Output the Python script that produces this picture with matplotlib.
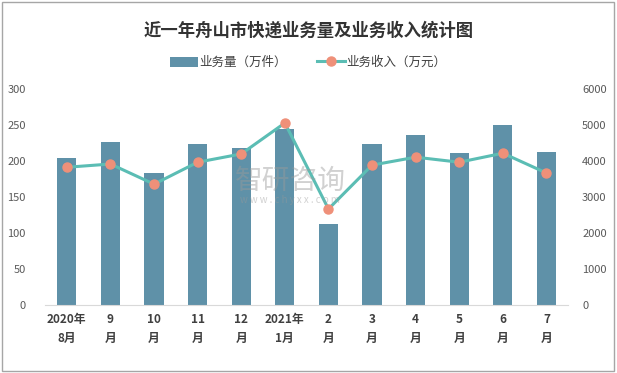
import numpy as np
import matplotlib
matplotlib.use("Agg")
from matplotlib import pyplot as plt
from matplotlib.patches import Rectangle

plt.rcParams['font.family'] = ['Noto Sans CJK SC', 'DejaVu Sans']

months = ["2020年\n8月", "9\n月", "10\n月", "11\n月", "12\n月", "2021年\n1月",
          "2\n月", "3\n月", "4\n月", "5\n月", "6\n月", "7\n月"]
volume = [205, 226, 183, 224, 218, 244, 112, 224, 237, 211, 250, 212]
revenue = [3830, 3920, 3360, 3970, 4200, 5060, 2670, 3890, 4110, 3970, 4220, 3670]

fig = plt.figure(figsize=(6.17, 3.73), dpi=100)
fig.patches.append(Rectangle((0.004, 0.006), 0.991, 0.988, transform=fig.transFigure,
                             fill=False, edgecolor="#a6a6a6", linewidth=1))

ax = fig.add_axes([0.073, 0.182, 0.848, 0.579])
x = np.arange(len(months))
bars = ax.bar(x, volume, width=0.44, color="#5f91a8", label="业务量（万件）", zorder=2)
ax.set_ylim(0, 300)
ax.set_yticks(range(0, 301, 50))
ax.set_xlim(-0.5, len(months) - 0.5)
ax.set_xticks(x)
ax.set_xticklabels(months, fontsize=8.5, fontweight="bold", color="#404040", linespacing=1.6)
ax.tick_params(axis="x", length=0, pad=6)
ax.tick_params(axis="y", length=0, labelsize=8, labelcolor="#595959", pad=14)
for s in ["top", "right", "left"]:
    ax.spines[s].set_visible(False)
ax.spines["bottom"].set_color("#d9d9d9")

ax2 = ax.twinx()
line, = ax2.plot(x, revenue, color="#5bbdb4", linewidth=2.2, marker="o", markersize=6.5,
                 markerfacecolor="#ef9079", markeredgecolor="#ef9079", label="业务收入（万元）", zorder=3)
ax2.set_ylim(0, 6000)
ax2.set_yticks(range(0, 6001, 1000))
ax2.tick_params(axis="y", length=0, labelsize=8, labelcolor="#595959", pad=10)
for s in ["top", "right", "left", "bottom"]:
    ax2.spines[s].set_visible(False)

fig.text(0.5, 0.918, "近一年舟山市快递业务量及业务收入统计图", ha="center", va="center",
         fontsize=12.5, fontweight="bold", color="#333333")
fig.legend(handles=[bars, line], loc="center", bbox_to_anchor=(0.5, 0.832), ncol=2,
           frameon=False, fontsize=9, handlelength=2.2, handleheight=0.9,
           handletextpad=0.15, columnspacing=2.4, labelcolor="#404040")

# watermark
fig.text(0.47, 0.515, "智研咨询", ha="center", va="center", fontsize=20, color="#9a9a9a", alpha=0.45)
fig.text(0.47, 0.463, "w w w . c h y x x . c o m", ha="center", va="center", fontsize=7,
         color="#9a9a9a", alpha=0.45)

fig.savefig("out.png", dpi=100)
